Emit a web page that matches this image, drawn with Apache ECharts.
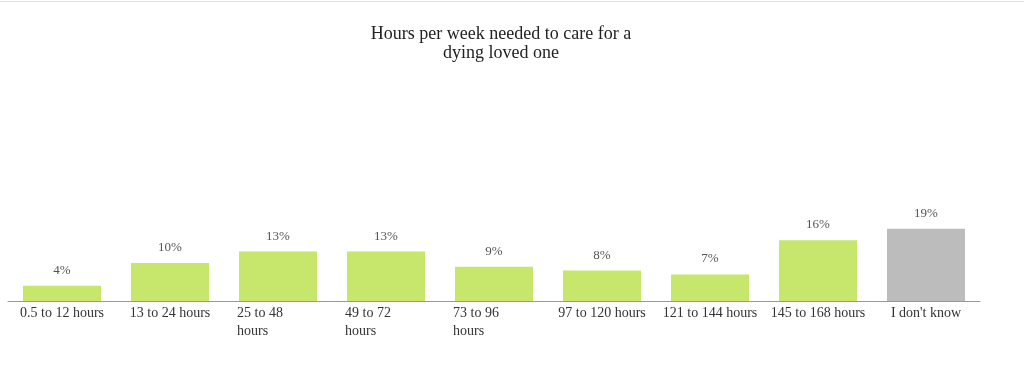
<!DOCTYPE html>
<html>
<head>
<meta charset="utf-8">
<script src="https://cdn.jsdelivr.net/npm/echarts@6/dist/echarts.min.js"></script>
<style>html,body{margin:0;padding:0;background:#fff}#c{width:1024px;height:381px}</style>
</head>
<body>
<div id="c"></div>
<script>
const titleText = 'Hours per week needed to care for a\ndying loved one';
const categories = ['0.5 to 12 hours', '13 to 24 hours', '25 to 48\nhours', '49 to 72\nhours', '73 to 96\nhours', '97 to 120 hours', '121 to 144 hours', '145 to 168 hours', "I don't know"];
const values = [4, 10, 13, 13, 9, 8, 7, 16, 19];
const isUnknown = [false, false, false, false, false, false, false, false, true];

const GREEN = '#c6e66c', GREY = '#bcbcbc';
const chart = echarts.init(document.getElementById('c'), null, {renderer: 'canvas'});
chart.setOption({
  animation: false,
  backgroundColor: '#fff',
  title: {
    text: titleText,
    left: 496, top: 20, textAlign: 'center',
    textStyle: {fontFamily: 'Liberation Serif', fontSize: 18, fontWeight: 'normal', color: '#222', lineHeight: 19, align: 'center'}
  },
  graphic: [{type: 'line', shape: {x1: 0, y1: 1.5, x2: 1024, y2: 1.5}, style: {stroke: '#e2e2e2', lineWidth: 1}}],
  grid: {left: 8, right: 44, top: 149, bottom: 80, containLabel: false},
  xAxis: {
    type: 'category',
    data: categories,
    axisLine: {lineStyle: {color: '#999', width: 1}},
    axisTick: {show: false},
    axisLabel: {
      interval: 0, margin: 3, color: '#333',
      fontFamily: 'Liberation Serif', fontSize: 14, lineHeight: 18,
      formatter: function (v) {
        if (v.indexOf('\n') < 0) return v;
        return v.split('\n').map(s => '{w|' + s + '}').join('\n');
      },
      rich: {w: {width: 82, align: 'left', fontFamily: 'Liberation Serif', fontSize: 14, lineHeight: 18, color: '#333'}}
    }
  },
  yAxis: {type: 'value', min: 0, max: 40, show: false, splitLine: {show: false}},
  series: [{
    type: 'bar',
    barWidth: 78,
    data: values.map((v, i) => ({value: v, itemStyle: {color: isUnknown[i] ? GREY : GREEN}})),
    label: {
      show: true, position: 'top', distance: 9,
      formatter: p => p.value + '%',
      fontFamily: 'Liberation Serif', fontSize: 13, color: '#555'
    }
  }]
});
</script>
</body>
</html>
